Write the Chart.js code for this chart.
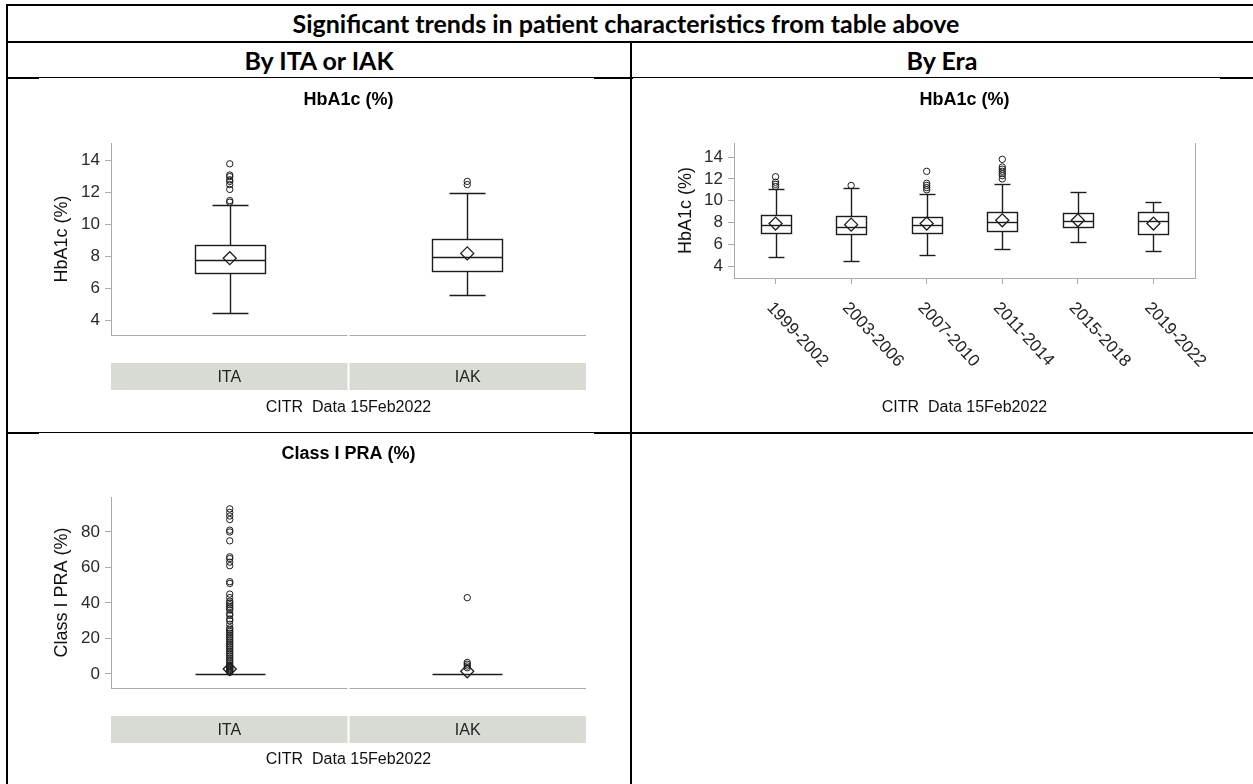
<!DOCTYPE html>
<html><head><meta charset="utf-8">
<script src="https://cdn.jsdelivr.net/npm/chart.js@4.4.1/dist/chart.umd.min.js"></script>
<style>
html,body{margin:0;padding:0;background:#fff;}
#page{position:relative;width:1253px;height:784px;overflow:hidden;background:#fff;}
.ln{position:absolute;background:#000;}
.hd{position:absolute;text-align:center;font-family:Lato,"Open Sans",sans-serif;font-weight:700;font-size:25px;color:#000;line-height:26px;height:26px;white-space:nowrap;}
canvas{position:absolute;background:#fff;z-index:2;}
</style></head><body><div id="page">
<div class="ln" style="left:6px;top:4px;width:1247px;height:2px"></div>
<div class="ln" style="left:6px;top:41px;width:1247px;height:2px"></div>
<div class="ln" style="left:6px;top:77px;width:1247px;height:2px"></div>
<div class="ln" style="left:6px;top:432px;width:1247px;height:2px"></div>
<div class="ln" style="left:6px;top:4px;width:2px;height:780px"></div>
<div class="ln" style="left:630px;top:41px;width:2px;height:743px"></div>
<div class="hd" style="left:7px;top:10px;width:1238px">Significant trends in patient characteristics from table above</div>
<div class="hd" style="left:7px;top:47px;width:624px">By ITA or IAK</div>
<div class="hd" style="left:631px;top:47px;width:622px">By Era</div>
<canvas id="c1" width="555" height="354" style="left:39px;top:78px"></canvas>
<canvas id="c2" width="587" height="354" style="left:633px;top:78px"></canvas>
<canvas id="c3" width="555" height="351" style="left:39px;top:433px"></canvas>
</div>
<script>
// ---------- data ----------
const groupLabels = ['ITA', 'IAK'];
const hbaTicks = [4, 6, 8, 10, 12, 14];
const hbaGroupLow = [4.5, 5.6];
const hbaGroupQ1 = [7.0, 7.1];
const hbaGroupMedian = [7.8, 8.0];
const hbaGroupQ3 = [8.7, 9.1];
const hbaGroupHigh = [11.2, 12.0];
const hbaGroupMean = [7.9, 8.2];
const hbaOutliersITA = [11.4, 11.5, 12.2, 12.5, 12.7, 12.8, 13.0, 13.1, 13.8];
const hbaOutliersIAK = [12.5, 12.7];

const eraLabels = ['1999-2002', '2003-2006', '2007-2010', '2011-2014', '2015-2018', '2019-2022'];
const eraLow = [4.8, 4.5, 5.0, 5.6, 6.2, 5.4];
const eraQ1 = [7.0, 6.9, 7.0, 7.2, 7.6, 6.9];
const eraMedian = [7.8, 7.6, 7.8, 8.0, 8.1, 8.1];
const eraQ3 = [8.7, 8.6, 8.5, 9.0, 8.9, 9.0];
const eraHigh = [11.1, 11.2, 10.6, 11.5, 10.8, 9.9];
const eraMean = [7.9, 7.8, 7.9, 8.2, 8.2, 7.9];
const eraOutliers1 = [11.3, 11.5, 11.7, 12.2];
const eraOutliers2 = [11.4];
const eraOutliers3 = [11.0, 11.2, 11.4, 11.6, 12.7];
const eraOutliers4 = [12.0, 12.3, 12.5, 12.7, 12.9, 13.1, 13.8];
const eraOutliers5 = [];
const eraOutliers6 = [];

const praTicks = [0, 20, 40, 60, 80];
const praLow = [0, 0];
const praQ1 = [0, 0];
const praMedian = [0, 0];
const praQ3 = [0, 0];
const praHigh = [0, 0];
const praMean = [2.8, 1.5];
const praOutliersITA = [1, 1.5, 2, 2.5, 3, 3.5, 4, 4.5, 5, 6, 7, 8, 9, 10, 11, 12, 13, 14, 15, 16, 17, 18, 19, 20, 21, 22, 23, 24, 25, 26, 28, 30, 31, 33, 34, 36, 37, 38, 39, 40, 41, 43, 45, 51, 52, 61, 63, 65, 66, 75, 80, 81, 87, 89, 91, 93];
const praOutliersIAK = [3.5, 4.5, 5.5, 6.5, 43];

// ---------- helpers ----------
const FONT = '"Liberation Sans", Arial, sans-serif';
const INK = '#1c1c1c';

function makeBoxChart(id, spec) {
  const outPts = [];
  spec.outliers.forEach((arr, i) => arr.forEach(v => outPts.push({x: spec.xs[i], y: v})));
  const meanPts = spec.mean.map((v, i) => ({x: spec.xs[i], y: v}));

  const plugin = {
    id: 'box_' + id,
    beforeDatasetsDraw(chart) {
      const {ctx, scales: {x, y}} = chart;
      ctx.save();
      ctx.strokeStyle = INK; ctx.lineWidth = 1.4;
      const ln = (a, b, c, d) => { ctx.beginPath(); ctx.moveTo(a, b); ctx.lineTo(c, d); ctx.stroke(); };
      spec.xs.forEach((xv, i) => {
        const cx = Math.round(x.getPixelForValue(xv)) + 0.5;
        const hw = Math.round(x.getPixelForValue(xv + spec.boxW / 2) - x.getPixelForValue(xv));
        const cw = Math.round(hw / 2);
        const p = v => Math.round(y.getPixelForValue(v)) + 0.5;
        const lo = p(spec.low[i]), q1 = p(spec.q1[i]), md = p(spec.median[i]), q3 = p(spec.q3[i]), hi = p(spec.high[i]);
        ln(cx, q3, cx, hi); ln(cx, q1, cx, lo);
        if (hi !== q3) ln(cx - cw, hi, cx + cw, hi);
        if (lo !== q1) ln(cx - cw, lo, cx + cw, lo);
        if (q1 !== q3) {
          ctx.fillStyle = '#fff';
          ctx.fillRect(cx - hw, q3, 2 * hw, q1 - q3);
          ctx.strokeRect(cx - hw, q3, 2 * hw, q1 - q3);
        }
        ln(cx - hw, md, cx + hw, md);
      });
      ctx.restore();
    },
    afterDraw(chart) {
      const {ctx, chartArea: ca, scales: {x, y}} = chart;
      ctx.save();
      const mid = (ca.left + ca.right) / 2;
      // title
      ctx.fillStyle = '#000';
      ctx.font = 'bold 18px ' + FONT;
      ctx.textAlign = 'center'; ctx.textBaseline = 'alphabetic';
      ctx.fillText(spec.title, mid, ca.top - 38);
      // axis frame lines
      ctx.strokeStyle = '#aaaaaa'; ctx.lineWidth = 1;
      if (spec.panels) {
        const yb = Math.round(ca.bottom) + 0.5;
        for (let k = 0; k < spec.panels.length; k++) {
          const a = x.getPixelForValue(k) + (k ? 1 : 0), b = x.getPixelForValue(k + 1) - (k < spec.panels.length - 1 ? 1 : 0);
          ctx.beginPath(); ctx.moveTo(a, yb); ctx.lineTo(b, yb); ctx.stroke();
        }
        // strip
        const st = ca.bottom + 28, sh = 27;
        for (let k = 0; k < spec.panels.length; k++) {
          const a = x.getPixelForValue(k) + (k ? 1 : 0), b = x.getPixelForValue(k + 1) - (k < spec.panels.length - 1 ? 1 : 0);
          ctx.fillStyle = '#d8dbd4';
          ctx.fillRect(a, st, b - a, sh);
          ctx.fillStyle = '#222';
          ctx.font = '16px ' + FONT;
          ctx.textBaseline = 'middle';
          ctx.fillText(spec.panels[k], (a + b) / 2, st + sh / 2 + 1);
        }
      }
      if (spec.rightBorder) {
        const xr = Math.round(ca.right) + 0.5;
        ctx.beginPath(); ctx.moveTo(xr, ca.top); ctx.lineTo(xr, ca.bottom); ctx.stroke();
      }
      if (spec.catLabels) {
        ctx.fillStyle = '#222';
        ctx.font = '17px ' + FONT;
        ctx.textAlign = 'left'; ctx.textBaseline = 'middle';
        spec.catLabels.forEach((lab, i) => {
          const px = x.getPixelForValue(i);
          ctx.save();
          ctx.translate(px - 6, ca.bottom + 27);
          ctx.rotate(47 * Math.PI / 180);
          ctx.fillText(lab, 0, 0);
          ctx.restore();
        });
      }
      // footnote
      ctx.fillStyle = '#111';
      ctx.font = '16px ' + FONT;
      ctx.textAlign = 'center'; ctx.textBaseline = 'middle';
      ctx.fillText('CITR  Data 15Feb2022', mid, spec.footY);
      ctx.restore();
    }
  };

  const xScale = spec.catLabels ? {
    type: 'linear', min: spec.xMin, max: spec.xMax,
    afterBuildTicks: s => { s.ticks = spec.catLabels.map((_, i) => ({value: i})); },
    afterFit: s => { s.height = spec.xH; },
    ticks: {display: false},
    grid: {display: true, drawOnChartArea: false, drawTicks: true, tickLength: 6, color: '#aaaaaa'},
    border: {display: true, color: '#aaaaaa', width: 1}
  } : {type: 'linear', min: spec.xMin, max: spec.xMax, display: false};

  return new Chart(document.getElementById(id), {
    type: 'scatter',
    data: {
      datasets: [
        {label: 'Outliers', data: outPts, pointStyle: 'circle', pointRadius: spec.outR,
         pointBackgroundColor: 'rgba(255,255,255,0)', pointBorderColor: INK, pointBorderWidth: 1},
        {label: 'Mean', data: meanPts, pointStyle: 'rectRot', pointRadius: 6.5,
         pointBackgroundColor: 'rgba(255,255,255,0)', pointBorderColor: INK, pointBorderWidth: 1.3}
      ]
    },
    options: {
      responsive: false, animation: false, devicePixelRatio: 1, events: [],
      layout: {padding: spec.pad},
      plugins: {legend: {display: false}, tooltip: {enabled: false}, title: {display: false}},
      scales: {
        x: xScale,
        y: {
          min: spec.yMin, max: spec.yMax,
          afterBuildTicks: s => { s.ticks = spec.ticks.map(v => ({value: v})); },
          afterFit: s => { s.width = spec.yW; },
          ticks: {color: '#2a2a2a', font: {family: FONT, size: 17}, padding: 5},
          grid: {display: true, drawOnChartArea: false, drawTicks: true, tickLength: 6, color: '#aaaaaa'},
          border: {display: true, color: '#aaaaaa', width: 1},
          title: {display: true, text: spec.yTitle, color: '#111', font: {family: FONT, size: 18}, padding: {top: 0, bottom: 0}}
        }
      }
    },
    plugins: [plugin]
  });
}

makeBoxChart('c1', {
  title: 'HbA1c (%)', yTitle: 'HbA1c (%)', ticks: hbaTicks, yMin: 3.1, yMax: 15.1,
  xMin: 0, xMax: 2, xs: [0.5, 1.5], boxW: 0.295, panels: groupLabels,
  low: hbaGroupLow, q1: hbaGroupQ1, median: hbaGroupMedian, q3: hbaGroupQ3, high: hbaGroupHigh,
  mean: hbaGroupMean, outliers: [hbaOutliersITA, hbaOutliersIAK], outR: 3.2,
  yW: 60, pad: {left: 12, right: 8, top: 65, bottom: 97}, footY: 330
});

makeBoxChart('c2', {
  title: 'HbA1c (%)', yTitle: 'HbA1c (%)', ticks: hbaTicks, yMin: 2.9, yMax: 15.3,
  xMin: -0.55, xMax: 5.55, xs: [0, 1, 2, 3, 4, 5], boxW: 0.4, catLabels: eraLabels, xH: 60,
  rightBorder: true,
  low: eraLow, q1: eraQ1, median: eraMedian, q3: eraQ3, high: eraHigh, mean: eraMean,
  outliers: [eraOutliers1, eraOutliers2, eraOutliers3, eraOutliers4, eraOutliers5, eraOutliers6], outR: 3.2,
  yW: 59, pad: {left: 42, right: 25, top: 65, bottom: 94}, footY: 330
});

makeBoxChart('c3', {
  title: 'Class I PRA (%)', yTitle: 'Class I PRA (%)', ticks: praTicks, yMin: -7.9, yMax: 99.7,
  xMin: 0, xMax: 2, xs: [0.5, 1.5], boxW: 0.295, panels: groupLabels,
  low: praLow, q1: praQ1, median: praMedian, q3: praQ3, high: praHigh,
  mean: praMean, outliers: [praOutliersITA, praOutliersIAK], outR: 3.2,
  yW: 60, pad: {left: 12, right: 8, top: 64, bottom: 96}, footY: 327
});
</script>
</body></html>
